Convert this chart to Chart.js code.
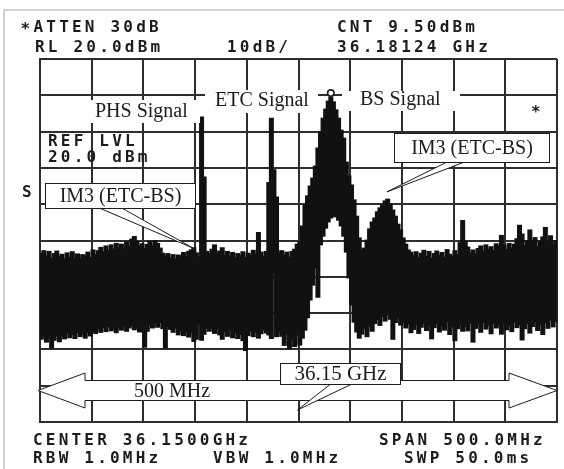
<!DOCTYPE html>
<html>
<head>
<meta charset="utf-8">
<script src="https://cdn.jsdelivr.net/npm/chart.js@4/dist/chart.umd.min.js"></script>
<style>
  html, body { margin: 0; padding: 0; background: #fff; }
  canvas { display: block; }
</style>
</head>
<body>
<canvas id="c" width="564" height="469"></canvas>
<script>
// Sweep settings: center 36.15 GHz, span 500 MHz, RL 20 dBm, 10 dB/div
const startGHz = 35.9;
const stopGHz = 36.4;
const divGHz = 0.05;
const refLevelDbm = 20;
const bottomDbm = -80;
const dbPerDiv = 10;
const binGHz = 0.0025;

// Peak-detected trace: highest and lowest level seen in each 2.5 MHz bin
const traceMaxDbm = [
  -33.5,-32.8,-34.2,-33.0,-34.8,-33.6,-32.9,-34.5,-33.8,-35.0,
  -33.4,-34.6,-33.1,-34.9,-33.7,-35.2,-33.9,-34.3,-33.2,-34.7,
  -32.6,-33.9,-32.8,-31.9,-33.2,-31.5,-32.7,-31.2,-32.4,-30.8,
  -32.0,-31.0,-32.3,-30.4,-31.6,-29.6,-28.9,-30.2,-31.5,-30.9,
  -32.2,-31.1,-30.3,-31.4,-30.0,-30.8,-32.1,-33.5,-34.2,-33.6,
  -34.8,-33.9,-35.1,-34.0,-34.6,-33.3,-34.4,-33.0,-32.6,-32.0,
  -33.4,-34.6,  4.0,-12.5,-33.0,-33.6,-32.4,-31.2,-33.8,-32.9,
  -32.0,-34.1,-33.0,-34.5,-33.3,-34.8,-33.6,-34.2,-33.1,-34.7,
  -33.5,-34.0,-32.7,-33.8,-27.8,-33.2,-34.4,-33.0,-14.0,  3.7,
  -10.5,-18.0,-33.5,-32.8,-34.1,-33.2,-34.6,-33.0,-32.4,-31.0,
  -30.4,-26.0,-20.2,-17.7,-15.0,-12.8, -9.5, -4.5, -0.1,  3.7,
    6.2,  8.4,  9.5,  8.2,  6.0,  3.7,  0.4, -1.8, -8.4,-12.2,
  -14.7,-18.8,-23.3,-29.3,-32.6,-32.1,-29.9,-26.8,-24.9,-23.8,
  -22.1,-21.0,-20.2,-19.1,-18.6,-19.9,-21.6,-23.3,-25.5,-27.1,
  -29.3,-31.0,-32.6,-33.2,-34.2,-33.1,-34.8,-33.5,-32.7,-34.4,
  -33.0,-34.9,-33.6,-32.9,-34.1,-33.3,-34.6,-32.5,-33.8,-34.3,
  -32.8,-33.9,-30.6,-24.5,-30.2,-31.8,-33.4,-32.6,-33.7,-32.2,
  -31.5,-32.9,-31.2,-32.4,-31.7,-32.8,-30.9,-31.6,-28.6,-31.3,
  -32.5,-30.8,-32.1,-31.0,-29.5,-25.8,-28.2,-31.4,-30.1,-27.1,
  -30.5,-29.2,-31.7,-30.3,-29.0,-26.4,-30.6,-28.7,-31.2,-30.0
];
const traceMinDbm = [
  -57.2,-56.4,-58.0,-56.8,-59.6,-57.5,-56.3,-57.9,-56.0,-57.1,
  -55.6,-56.8,-55.9,-57.0,-55.4,-56.5,-55.8,-56.9,-55.2,-56.3,
  -54.8,-55.6,-54.2,-55.3,-54.0,-55.1,-53.8,-54.9,-54.3,-55.4,
  -53.9,-54.7,-53.6,-55.0,-54.1,-53.5,-54.6,-53.9,-55.2,-54.4,
  -59.4,-55.0,-53.2,-54.1,-52.8,-53.9,-52.6,-54.3,-59.6,-53.7,
  -54.5,-55.3,-54.1,-56.0,-54.8,-56.2,-55.1,-56.6,-55.4,-57.8,
  -57.2,-53.0,-57.5,-55.8,-54.2,-55.0,-54.1,-55.6,-54.3,-56.0,
  -57.2,-55.1,-56.4,-54.7,-56.8,-55.4,-57.0,-55.9,-57.6,-60.3,
  -56.2,-55.0,-56.5,-55.3,-56.9,-55.7,-54.6,-55.5,-56.0,-57.0,
  -39.0,-56.5,-55.2,-56.4,-58.9,-55.7,-59.8,-57.1,-59.2,-56.0,
  -58.8,-56.9,-54.7,-51.3,-46.4,-42.3,-37.6,-45.6,-31.2,-28.8,
  -26.6,-24.9,-23.8,-23.3,-23.5,-24.4,-26.0,-28.8,-33.2,-40.3,
  -47.8,-52.5,-55.2,-56.9,-55.8,-54.2,-56.5,-53.6,-55.0,-52.9,
  -51.8,-53.4,-50.9,-52.2,-50.4,-51.7,-57.2,-52.6,-51.0,-53.3,
  -52.5,-54.1,-53.0,-55.4,-54.5,-53.2,-55.6,-53.9,-52.7,-54.8,
  -53.5,-57.1,-54.0,-52.9,-55.2,-53.6,-54.7,-52.4,-55.9,-53.8,
  -57.6,-54.3,-53.1,-55.0,-53.7,-54.9,-52.8,-58.0,-54.2,-53.0,
  -55.3,-52.6,-54.4,-53.3,-55.7,-52.9,-54.1,-53.5,-55.8,-52.7,
  -54.6,-53.4,-55.1,-52.5,-54.0,-53.2,-57.4,-54.3,-52.8,-55.5,
  -53.7,-52.4,-54.8,-53.1,-55.9,-52.6,-54.2,-51.9,-53.8,-52.3
];

// Marker readout
const markerGHz = 36.18124;
const markerDbm = 9.5;

// Instrument readouts [text, x, y]
const headerTexts = [
  ['ATTEN 30dB', 33.5, 27.5],
  ['RL 20.0dBm', 35, 47.5],
  ['10dB/', 227, 47.5],
  ['CNT 9.50dBm', 337, 27.5],
  ['36.18124 GHz', 337, 47.5]
];
const footerTexts = [
  ['CENTER 36.1500GHz', 33, 440.5],
  ['SPAN 500.0MHz', 379, 440.5],
  ['RBW 1.0MHz', 33, 459],
  ['VBW 1.0MHz', 213, 459],
  ['SWP 50.0ms', 404, 459]
];
const screenTexts = [
  ['REF LVL', 48, 142],
  ['20.0 dBm', 48, 158],
  ['S', 22, 193]
];

// Signal labels [text, x, y, patch]
const signalLabels = [
  ['PHS Signal', 95, 112, [86, 100, 114, 23]],
  ['ETC Signal', 215, 101, [205, 90, 113, 23]],
  ['BS Signal', 360, 100, [342, 91, 118, 20]]
];

const binCentersGHz = traceMaxDbm.map((_, i) => startGHz + binGHz * (i + 0.5));
const tracePoints = traceMaxDbm.map((hi, i) => ({ x: binCentersGHz[i], y: [traceMinDbm[i], hi] }));

const ink = '#1c1c1c';
const gridInk = '#2e2e2e';

function monoText(ctx, text, x, y) {
  ctx.font = 'bold 16px "DejaVu Sans Mono"';
  ctx.letterSpacing = '3.2px';
  ctx.textAlign = 'left';
  ctx.textBaseline = 'middle';
  ctx.fillStyle = ink;
  ctx.fillText(text, x, y);
  ctx.letterSpacing = '0px';
}

function serifText(ctx, text, x, y, size, align) {
  ctx.font = size + 'px "Liberation Serif"';
  ctx.textAlign = align;
  ctx.textBaseline = 'middle';
  ctx.fillStyle = ink;
  ctx.fillText(text, x, y);
}

function callout(ctx, box, text, baseA, baseB, tip, size) {
  const by = box[1] + box[3];
  ctx.lineWidth = 1;
  ctx.strokeStyle = ink;
  ctx.fillStyle = '#fff';
  ctx.beginPath();
  ctx.moveTo(baseA, by - 1);
  ctx.lineTo(tip[0], tip[1]);
  ctx.lineTo(baseB, by - 1);
  ctx.closePath();
  ctx.fill();
  ctx.stroke();
  ctx.fillRect(box[0], box[1], box[2], box[3]);
  ctx.strokeRect(box[0] + 0.5, box[1] + 0.5, box[2], box[3]);
  serifText(ctx, text, box[0] + box[2] / 2 + 0.5, box[1] + box[3] / 2 + 1, size, 'center');
}

const overlay = {
  id: 'overlay',
  afterDraw(chart) {
    const ctx = chart.ctx;
    const xs = chart.scales.x, ys = chart.scales.y, area = chart.chartArea;
    ctx.save();

    // outer frame
    ctx.strokeStyle = '#c4c4c4';
    ctx.lineWidth = 1.5;
    ctx.beginPath();
    ctx.moveTo(4, 469); ctx.lineTo(4, 10); ctx.lineTo(564, 10);
    ctx.stroke();

    // readouts
    monoText(ctx, '*', 20.5, 30);
    headerTexts.forEach(t => monoText(ctx, t[0], t[1], t[2]));
    footerTexts.forEach(t => monoText(ctx, t[0], t[1], t[2]));
    screenTexts.forEach(t => monoText(ctx, t[0], t[1], t[2]));
    monoText(ctx, '*', 531, 113);

    // signal labels on white patches
    signalLabels.forEach(l => {
      ctx.fillStyle = '#fff';
      ctx.fillRect(l[3][0], l[3][1], l[3][2], l[3][3]);
      serifText(ctx, l[0], l[1], l[2], 20, 'left');
    });

    // peak marker
    const mx = xs.getPixelForValue(markerGHz);
    const my = ys.getPixelForValue(markerDbm);
    ctx.beginPath();
    ctx.arc(mx, my - 4, 3.2, 0, Math.PI * 2);
    ctx.fillStyle = '#fff';
    ctx.fill();
    ctx.lineWidth = 1.6;
    ctx.strokeStyle = ink;
    ctx.stroke();

    // intermodulation callouts
    callout(ctx, [45, 183, 150, 25], 'IM3 (ETC-BS)', 97, 120,
      [xs.getPixelForValue(36.048), ys.getPixelForValue(-32.1)], 20);
    callout(ctx, [394, 133, 155, 29], 'IM3 (ETC-BS)', 449, 467,
      [xs.getPixelForValue(36.2356), ys.getPixelForValue(-16.6)], 20);

    // span arrow
    const yc = 390.5, head = 17.5, shaft = 10;
    const lt = area.left - 2, lb = lt + 47, rt = area.right, rb = rt - 48;
    ctx.beginPath();
    ctx.moveTo(lt, yc);
    ctx.lineTo(lb, yc - head); ctx.lineTo(lb, yc - shaft);
    ctx.lineTo(rb, yc - shaft); ctx.lineTo(rb, yc - head);
    ctx.lineTo(rt, yc);
    ctx.lineTo(rb, yc + head); ctx.lineTo(rb, yc + shaft);
    ctx.lineTo(lb, yc + shaft); ctx.lineTo(lb, yc + head);
    ctx.closePath();
    ctx.fillStyle = '#fff';
    ctx.fill();
    ctx.lineWidth = 1;
    ctx.strokeStyle = ink;
    ctx.stroke();
    serifText(ctx, '500 MHz', 172, 392, 20, 'center');

    // center frequency callout
    callout(ctx, [280, 363, 120, 21], '36.15 GHz', 332, 354,
      [xs.getPixelForValue(36.149), ys.getPixelForValue(-76.7)], 21);

    ctx.restore();
  }
};

new Chart(document.getElementById('c'), {
  type: 'bar',
  data: {
    datasets: [{
      data: tracePoints,
      backgroundColor: '#111111',
      borderWidth: 0,
      barThickness: 4,
      inflateAmount: 0.5
    }]
  },
  options: {
    responsive: false,
    animation: false,
    events: [],
    layout: { padding: { left: 40, right: 7, top: 59, bottom: 47 } },
    plugins: { legend: { display: false }, tooltip: { enabled: false } },
    scales: {
      x: {
        type: 'linear',
        min: startGHz,
        max: stopGHz,
        offset: false,
        ticks: { display: false, stepSize: divGHz },
        grid: { color: gridInk, lineWidth: 2, drawTicks: false, offset: false },
        border: { display: true, color: gridInk, width: 2 }
      },
      y: {
        min: bottomDbm,
        max: refLevelDbm,
        ticks: { display: false, stepSize: dbPerDiv },
        grid: { color: gridInk, lineWidth: 2, drawTicks: false },
        border: { display: true, color: gridInk, width: 2 }
      }
    }
  },
  plugins: [overlay]
});
</script>
</body>
</html>
